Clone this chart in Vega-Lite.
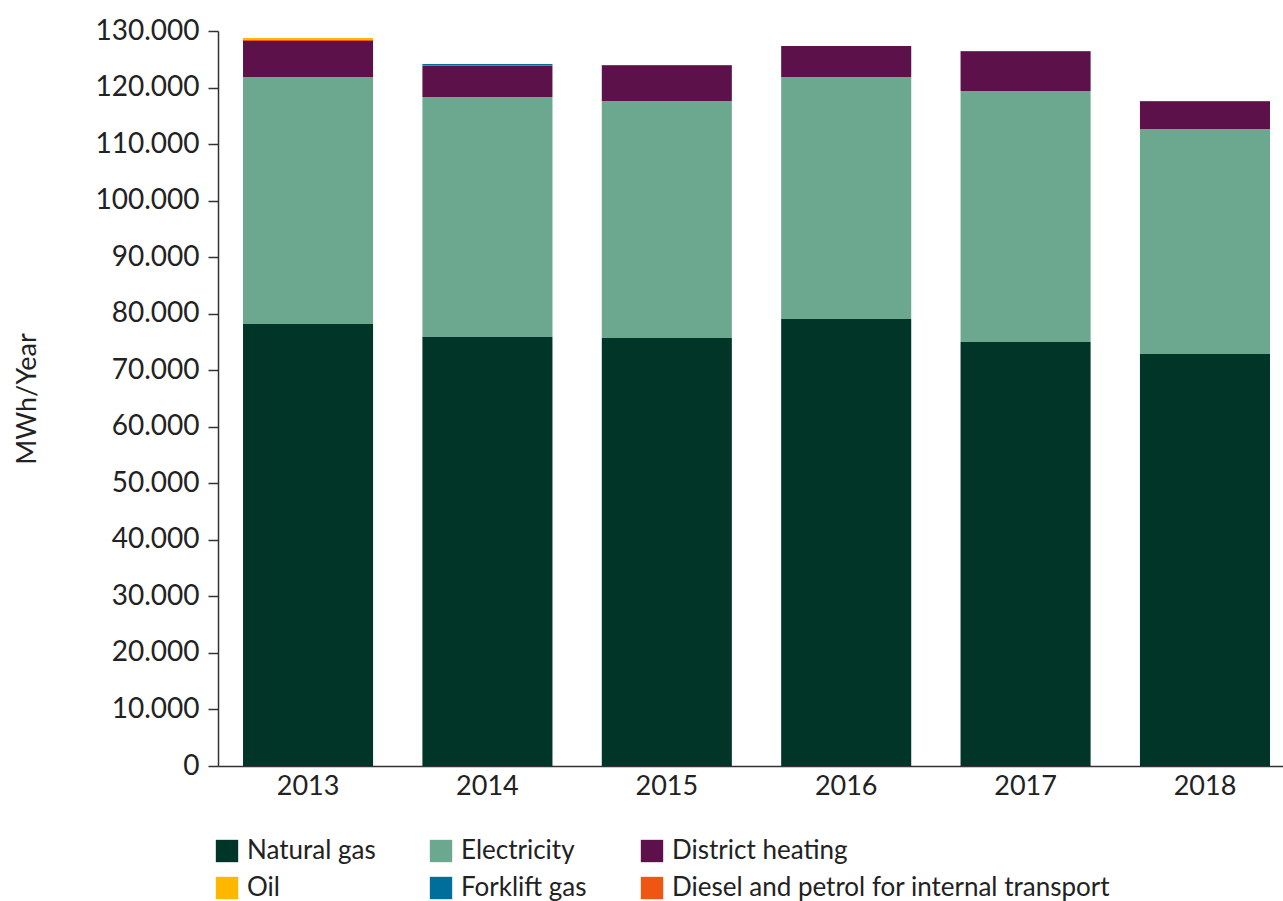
{
  "$schema": "https://vega.github.io/schema/vega-lite/v6.json",
  "autosize": {"type": "none"},
  "width": 1065,
  "height": 735,
  "padding": {"left": 218, "top": 31, "right": 0, "bottom": 135},
  "background": "white",
  "data": {
    "values": [
      {"year": "2013", "source": "Natural gas", "order": 1, "value": 78180},
      {"year": "2013", "source": "Electricity", "order": 2, "value": 43690},
      {"year": "2013", "source": "District heating", "order": 3, "value": 6360},
      {"year": "2013", "source": "Diesel and petrol for internal transport", "order": 4, "value": 180},
      {"year": "2013", "source": "Forklift gas", "order": 5, "value": 0},
      {"year": "2013", "source": "Oil", "order": 6, "value": 350},
      {"year": "2014", "source": "Natural gas", "order": 1, "value": 75880},
      {"year": "2014", "source": "Electricity", "order": 2, "value": 42450},
      {"year": "2014", "source": "District heating", "order": 3, "value": 5480},
      {"year": "2014", "source": "Diesel and petrol for internal transport", "order": 4, "value": 180},
      {"year": "2014", "source": "Forklift gas", "order": 5, "value": 180},
      {"year": "2014", "source": "Oil", "order": 6, "value": 0},
      {"year": "2015", "source": "Natural gas", "order": 1, "value": 75700},
      {"year": "2015", "source": "Electricity", "order": 2, "value": 41920},
      {"year": "2015", "source": "District heating", "order": 3, "value": 6190},
      {"year": "2015", "source": "Diesel and petrol for internal transport", "order": 4, "value": 0},
      {"year": "2015", "source": "Forklift gas", "order": 5, "value": 180},
      {"year": "2015", "source": "Oil", "order": 6, "value": 0},
      {"year": "2016", "source": "Natural gas", "order": 1, "value": 79060},
      {"year": "2016", "source": "Electricity", "order": 2, "value": 42810},
      {"year": "2016", "source": "District heating", "order": 3, "value": 5480},
      {"year": "2016", "source": "Diesel and petrol for internal transport", "order": 4, "value": 0},
      {"year": "2016", "source": "Forklift gas", "order": 5, "value": 0},
      {"year": "2016", "source": "Oil", "order": 6, "value": 0},
      {"year": "2017", "source": "Natural gas", "order": 1, "value": 74990},
      {"year": "2017", "source": "Electricity", "order": 2, "value": 44400},
      {"year": "2017", "source": "District heating", "order": 3, "value": 6890},
      {"year": "2017", "source": "Diesel and petrol for internal transport", "order": 4, "value": 0},
      {"year": "2017", "source": "Forklift gas", "order": 5, "value": 180},
      {"year": "2017", "source": "Oil", "order": 6, "value": 0},
      {"year": "2018", "source": "Natural gas", "order": 1, "value": 72870},
      {"year": "2018", "source": "Electricity", "order": 2, "value": 39800},
      {"year": "2018", "source": "District heating", "order": 3, "value": 4770},
      {"year": "2018", "source": "Diesel and petrol for internal transport", "order": 4, "value": 0},
      {"year": "2018", "source": "Forklift gas", "order": 5, "value": 180},
      {"year": "2018", "source": "Oil", "order": 6, "value": 0}
    ]
  },
  "mark": {"type": "bar"},
  "encoding": {
    "x": {
      "field": "year",
      "type": "nominal",
      "scale": {"paddingInner": 0.275, "paddingOuter": 0.106, "align": 0.658},
      "axis": {
        "title": null,
        "labelAngle": 0,
        "ticks": false,
        "labelPadding": 7,
        "labelFontSize": 27,
        "labelFont": "Lato",
        "labelColor": "#222222",
        "domainColor": "#333333",
        "domainWidth": 1.5
      }
    },
    "y": {
      "field": "value",
      "type": "quantitative",
      "stack": "zero",
      "scale": {"domain": [0, 130000], "nice": false},
      "axis": {
        "title": "MWh/Year",
        "titleFont": "Lato",
        "titleFontSize": 27,
        "titleFontWeight": "normal",
        "titleColor": "#222222",
        "titlePadding": 53,
        "values": [0, 10000, 20000, 30000, 40000, 50000, 60000, 70000, 80000, 90000, 100000, 110000, 120000, 130000],
        "labelExpr": "replace(format(datum.value, ','), /,/g, '.')",
        "labelFontSize": 28,
        "labelFont": "Lato",
        "labelColor": "#222222",
        "labelPadding": 9,
        "tickSize": 10,
        "tickColor": "#333333",
        "tickWidth": 1.5,
        "domainColor": "#333333",
        "domainWidth": 1.5,
        "grid": false
      }
    },
    "color": {
      "field": "source",
      "type": "nominal",
      "scale": {
        "domain": ["Natural gas", "Electricity", "District heating", "Oil", "Forklift gas", "Diesel and petrol for internal transport"],
        "range": ["#003527", "#6ca790", "#5c114b", "#ffb700", "#006e9a", "#ee5612"]
      },
      "legend": {
        "title": null,
        "orient": "none",
        "legendX": -4,
        "legendY": 807,
        "direction": "horizontal",
        "columns": 3,
        "columnPadding": 52,
        "rowPadding": 11,
        "symbolType": "square",
        "symbolSize": 500,
        "symbolStrokeWidth": 0,
        "labelFont": "Lato",
        "labelFontSize": 26,
        "labelColor": "#222222",
        "labelOffset": 7,
        "labelLimit": 600
      }
    },
    "order": {"field": "order", "type": "quantitative"}
  },
  "config": {"view": {"stroke": null}}
}
